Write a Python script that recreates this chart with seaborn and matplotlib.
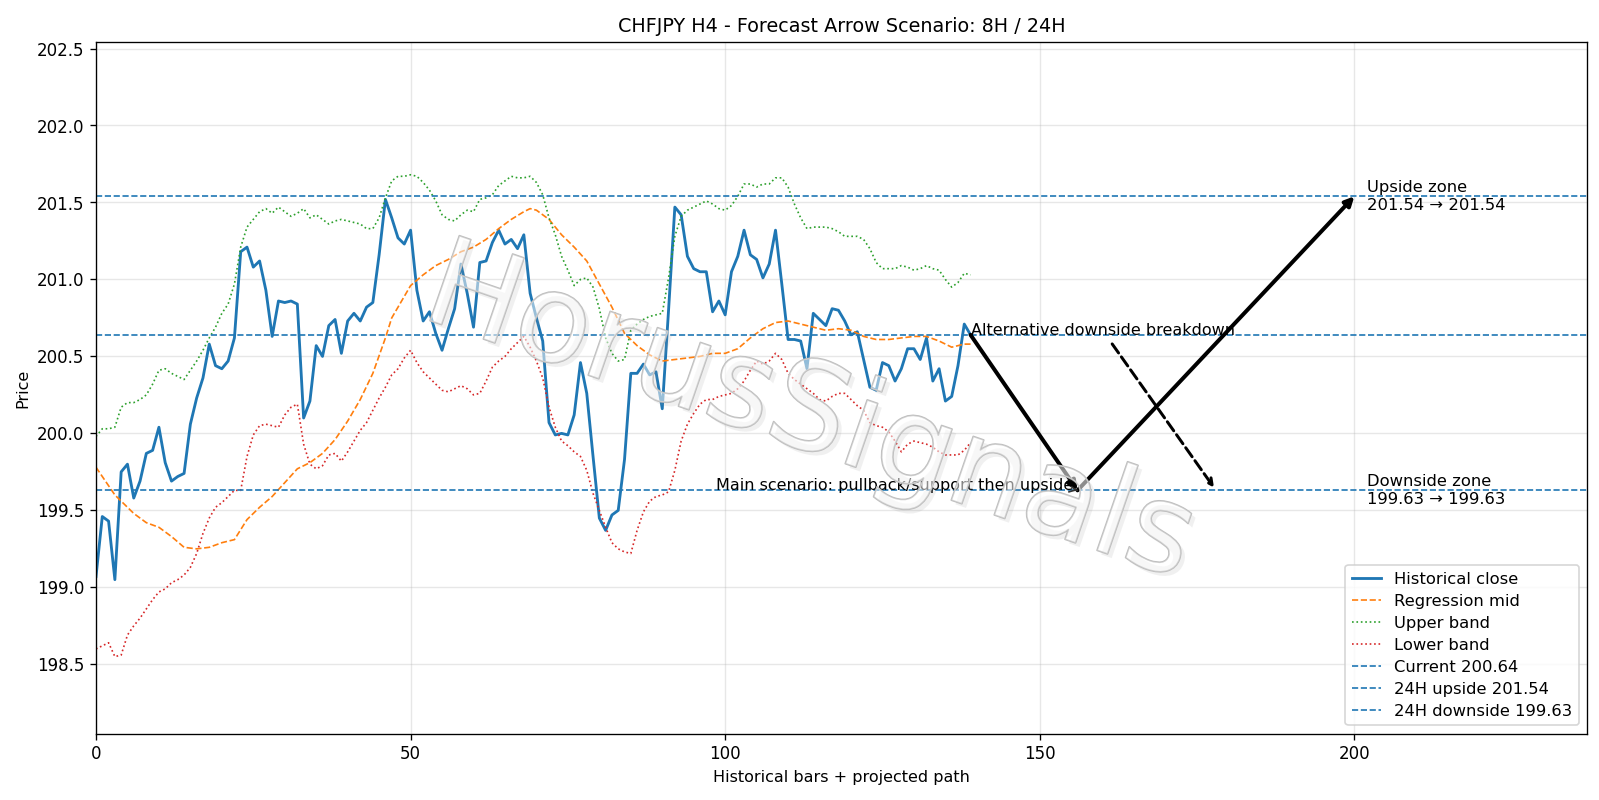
import numpy as np
import pandas as pd
import matplotlib
matplotlib.use("Agg")
import matplotlib.pyplot as plt
import matplotlib.patheffects as pe
import seaborn as sns

# Historical close, bars 0..139
close = [199.07, 199.46, 199.43, 199.05, 199.75, 199.80, 199.58, 199.69, 199.87, 199.89,
         200.04, 199.81, 199.69, 199.72, 199.74, 200.06, 200.23, 200.36, 200.58, 200.44,
         200.42, 200.47, 200.62, 201.18, 201.21, 201.08, 201.12, 200.93, 200.63, 200.86,
         200.85, 200.86, 200.84, 200.10, 200.21, 200.57, 200.50, 200.70, 200.74, 200.52,
         200.73, 200.78, 200.73, 200.82, 200.85, 201.16, 201.52, 201.40, 201.27, 201.23,
         201.32, 200.93, 200.73, 200.79, 200.65, 200.54, 200.68, 200.81, 201.10, 200.91,
         200.69, 201.11, 201.12, 201.24, 201.32, 201.23, 201.26, 201.20, 201.29, 200.91,
         200.75, 200.60, 200.07, 199.99, 200.00, 199.99, 200.12, 200.46, 200.26, 199.85,
         199.45, 199.37, 199.47, 199.50, 199.83, 200.39, 200.39, 200.45, 200.38, 200.40,
         200.16, 200.80, 201.47, 201.42, 201.15, 201.07, 201.05, 201.05, 200.79, 200.86,
         200.77, 201.05, 201.15, 201.32, 201.16, 201.13, 201.01, 201.10, 201.32, 200.97,
         200.61, 200.61, 200.60, 200.42, 200.78, 200.74, 200.70, 200.81, 200.80, 200.73,
         200.64, 200.66, 200.48, 200.30, 200.28, 200.46, 200.44, 200.34, 200.42, 200.55,
         200.55, 200.48, 200.62, 200.34, 200.42, 200.21, 200.24, 200.44, 200.71, 200.64]

upper = [199.98, 200.03, 200.03, 200.04, 200.17, 200.20, 200.20, 200.22, 200.25, 200.32,
         200.41, 200.42, 200.39, 200.37, 200.35, 200.41, 200.47, 200.54, 200.62, 200.69,
         200.78, 200.84, 200.97, 201.21, 201.34, 201.39, 201.44, 201.46, 201.43, 201.47,
         201.44, 201.41, 201.43, 201.46, 201.40, 201.42, 201.39, 201.36, 201.38, 201.39,
         201.38, 201.37, 201.36, 201.33, 201.33, 201.40, 201.53, 201.64, 201.67, 201.67,
         201.68, 201.67, 201.63, 201.58, 201.51, 201.42, 201.39, 201.38, 201.42, 201.45,
         201.44, 201.52, 201.53, 201.55, 201.61, 201.64, 201.67, 201.66, 201.66, 201.67,
         201.63, 201.55, 201.40, 201.29, 201.15, 201.06, 200.96, 201.00, 201.01, 200.95,
         200.81, 200.62, 200.52, 200.47, 200.48, 200.67, 200.71, 200.74, 200.76, 200.77,
         200.78, 201.01, 201.28, 201.41, 201.45, 201.47, 201.49, 201.51, 201.49, 201.46,
         201.45, 201.48, 201.54, 201.62, 201.62, 201.60, 201.62, 201.62, 201.66, 201.66,
         201.60, 201.49, 201.40, 201.33, 201.34, 201.34, 201.34, 201.33, 201.31, 201.28,
         201.28, 201.28, 201.26, 201.20, 201.11, 201.07, 201.07, 201.07, 201.09, 201.08,
         201.06, 201.07, 201.09, 201.07, 201.06, 201.00, 200.95, 200.98, 201.04, 201.03]

lower = [198.60, 198.62, 198.64, 198.55, 198.56, 198.69, 198.75, 198.80, 198.86, 198.92,
         198.97, 198.99, 199.03, 199.05, 199.08, 199.13, 199.22, 199.35, 199.45, 199.52,
         199.55, 199.59, 199.63, 199.63, 199.85, 199.99, 200.05, 200.06, 200.05, 200.04,
         200.12, 200.17, 200.19, 199.93, 199.80, 199.77, 199.79, 199.86, 199.87, 199.82,
         199.88, 199.95, 200.02, 200.07, 200.15, 200.23, 200.30, 200.38, 200.42, 200.49,
         200.54, 200.46, 200.40, 200.36, 200.32, 200.28, 200.27, 200.29, 200.31, 200.29,
         200.25, 200.26, 200.34, 200.43, 200.47, 200.50, 200.55, 200.59, 200.63, 200.56,
         200.47, 200.36, 200.17, 200.04, 199.95, 199.92, 199.88, 199.85, 199.76, 199.61,
         199.50, 199.39, 199.29, 199.25, 199.23, 199.22, 199.37, 199.49, 199.56, 199.59,
         199.60, 199.62, 199.76, 199.95, 200.06, 200.13, 200.19, 200.22, 200.22, 200.24,
         200.25, 200.26, 200.29, 200.34, 200.41, 200.47, 200.45, 200.47, 200.52, 200.48,
         200.39, 200.35, 200.32, 200.29, 200.26, 200.22, 200.21, 200.24, 200.26, 200.26,
         200.22, 200.18, 200.15, 200.07, 200.05, 200.04, 200.01, 199.95, 199.88, 199.93,
         199.95, 199.94, 199.93, 199.91, 199.88, 199.86, 199.86, 199.86, 199.89, 199.94]

# regression mid, read at these bars
mid_x = [0, 3, 6, 8, 10, 12, 14, 16, 18, 20, 22, 24, 26, 28, 30, 32, 34, 36, 38, 40,
         42, 44, 46, 47, 48, 50, 52, 54, 56, 58, 60, 62, 64, 66, 68, 69, 70, 72, 74, 76,
         78, 80, 82, 84, 86, 88, 90, 92, 94, 96, 98, 100, 102, 104, 106, 108, 110, 112,
         114, 116, 118, 120, 122, 124, 126, 128, 130, 132, 134, 136, 138, 139]
mid_y = [199.78, 199.60, 199.48, 199.42, 199.39, 199.33, 199.26, 199.25, 199.26, 199.29,
         199.31, 199.44, 199.52, 199.59, 199.68, 199.77, 199.81, 199.87, 199.96, 200.08,
         200.22, 200.39, 200.62, 200.75, 200.82, 200.96, 201.03, 201.09, 201.13, 201.18,
         201.21, 201.26, 201.33, 201.39, 201.44, 201.46, 201.45, 201.39, 201.29, 201.21,
         201.12, 200.97, 200.82, 200.65, 200.57, 200.51, 200.47, 200.48, 200.49, 200.50,
         200.52, 200.52, 200.55, 200.62, 200.68, 200.72, 200.73, 200.71, 200.69, 200.67,
         200.68, 200.67, 200.63, 200.61, 200.61, 200.62, 200.63, 200.63, 200.60, 200.56,
         200.58, 200.58]

current = 200.64
upside = 201.54
downside = 199.63
# projected path: last bar -> support -> upside target
path_x = [139, 156, 200]
path_y = [current, downside, upside]
alt_x = [139, 178]

bars = np.arange(len(close))
df = pd.DataFrame({"bar": bars, "close": close, "upper": upper, "lower": lower})
mid_df = pd.DataFrame({"bar": mid_x, "mid": mid_y})

fig, ax = plt.subplots(figsize=(13.333, 6.667), dpi=120)
fig.subplots_adjust(left=0.06, right=0.992, bottom=0.083, top=0.947)

sns.lineplot(data=df, x="bar", y="close", ax=ax, color="tab:blue", linewidth=1.7, label="Historical close")
sns.lineplot(data=mid_df, x="bar", y="mid", ax=ax, color="tab:orange", linewidth=1, linestyle="--", label="Regression mid")
sns.lineplot(data=df, x="bar", y="upper", ax=ax, color="tab:green", linewidth=1, linestyle=":", label="Upper band")
sns.lineplot(data=df, x="bar", y="lower", ax=ax, color="tab:red", linewidth=1, linestyle=":", label="Lower band")

ax.axhline(current, color="tab:blue", linestyle="--", linewidth=1, label=f"Current {current:.2f}")
ax.axhline(upside, color="tab:blue", linestyle="--", linewidth=1, label=f"24H upside {upside:.2f}")
ax.axhline(downside, color="tab:blue", linestyle="--", linewidth=1, label=f"24H downside {downside:.2f}")

# scenario arrows
arrow_kw = dict(arrowstyle="-|>", color="black", lw=2.4, mutation_scale=11, shrinkA=0, shrinkB=0)
ax.annotate("", xy=(path_x[1], path_y[1]), xytext=(path_x[0], path_y[0]), arrowprops=arrow_kw)
ax.annotate("", xy=(path_x[2], path_y[2]), xytext=(path_x[1], path_y[1]), arrowprops=arrow_kw)
ax.annotate("Main scenario: pullback/support then upside", xy=(path_x[1], downside),
            xytext=(path_x[1] - 0.6, downside), ha="right", va="baseline", fontsize=9.6,
            arrowprops=dict(arrowstyle="->", color="#333333", lw=1, relpos=(1.0, 0.25),
                            shrinkA=0, shrinkB=0))
ax.annotate("Alternative downside breakdown", xy=(alt_x[1], downside), xytext=(alt_x[0], current),
            ha="left", va="baseline", fontsize=9.6,
            arrowprops=dict(arrowstyle="->", color="black", lw=1.8, linestyle="--"))

ax.text(202, upside, f"Upside zone\n{upside:.2f} → {upside:.2f}", va="center", fontsize=9.8)
ax.text(202, downside, f"Downside zone\n{downside:.2f} → {downside:.2f}", va="center", fontsize=9.8)

# watermark
ax.text(0.479, 0.46, "HorusSignals", transform=ax.transAxes, fontsize=74, rotation=-19,
        ha="center", va="center", color=(1, 1, 1, 0.3), zorder=10,
        path_effects=[pe.SimplePatchShadow(offset=(2.5, -2.5), shadow_rgbFace="#999999", alpha=0.14),
                      pe.Stroke(linewidth=1.0, foreground="#bdbdbd"), pe.Normal()])

ax.set_xlim(0, 237)
ax.set_ylim(198.05, 202.54)
ax.grid(True, alpha=0.3)
ax.set_title("CHFJPY H4 - Forecast Arrow Scenario: 8H / 24H", fontsize=11.5)
ax.set_xlabel("Historical bars + projected path", fontsize=9.6)
ax.set_ylabel("Price", fontsize=9.6)
ax.legend(loc="lower right", fontsize=9.8, labelspacing=0.43, handlelength=1.8)

fig.savefig("out.png", dpi=120)
